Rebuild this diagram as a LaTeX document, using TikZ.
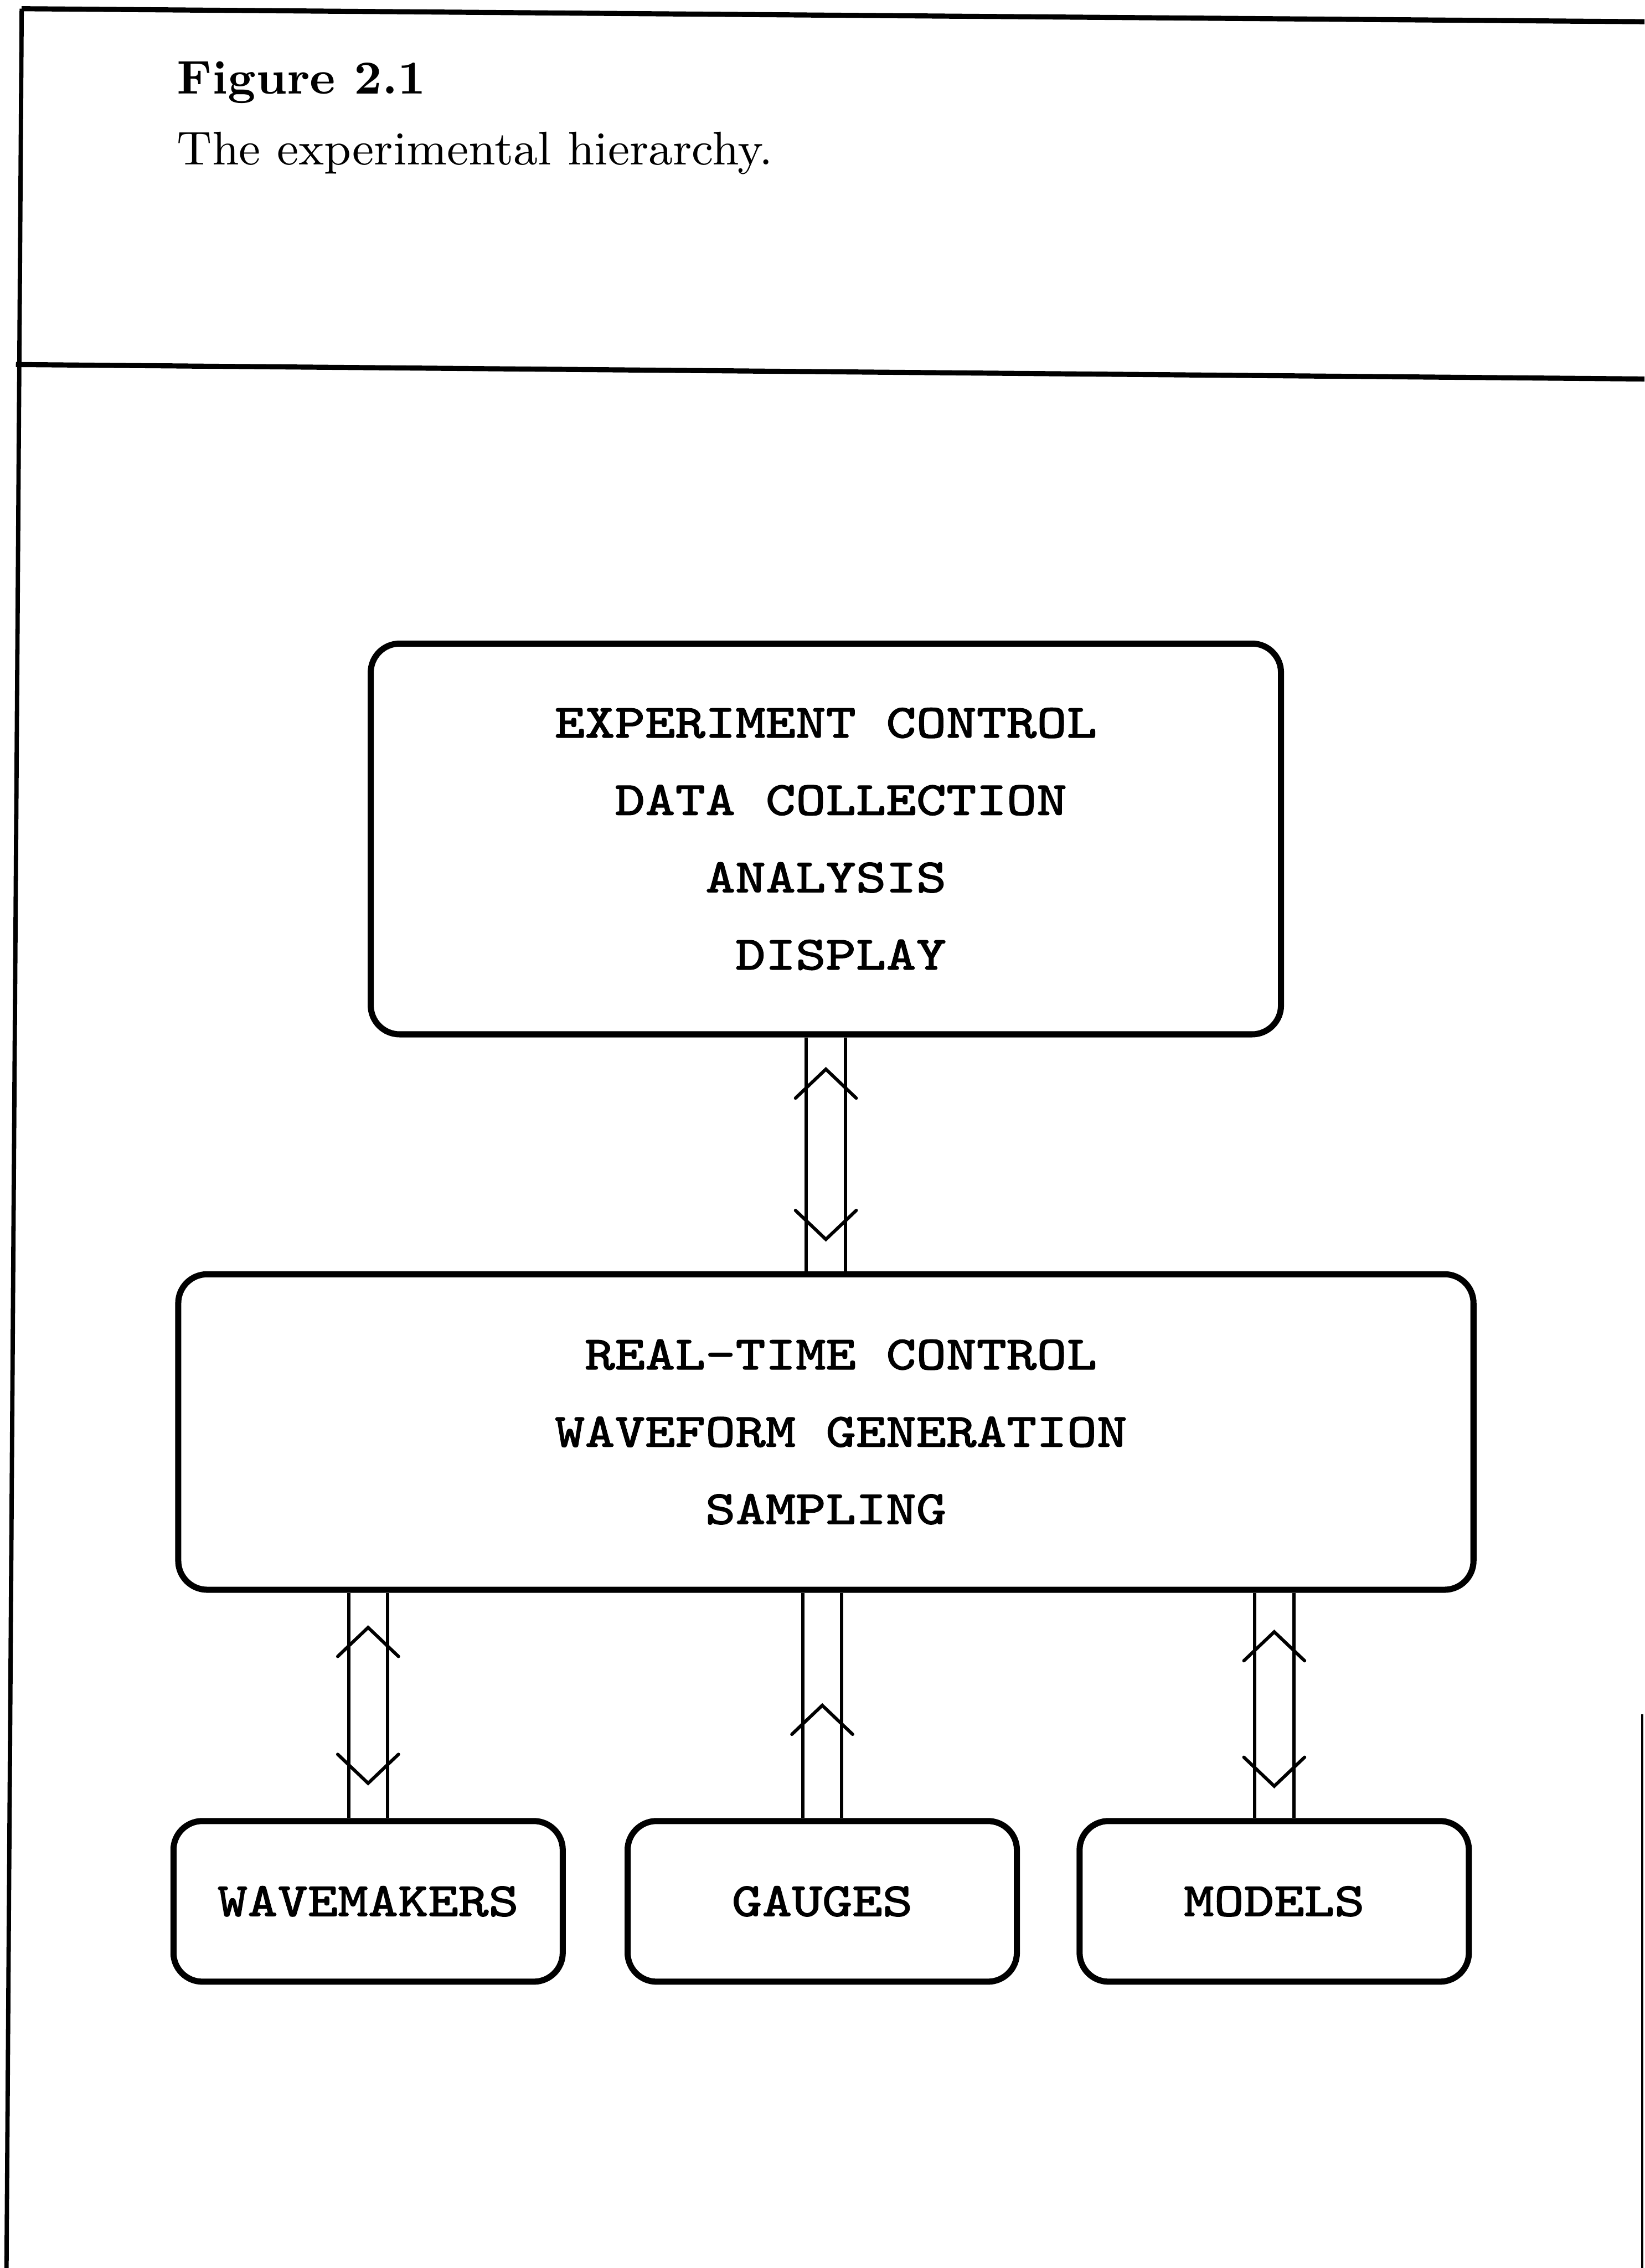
\documentclass[tikz,border=0pt]{standalone}
\usepackage{fontspec}
\usepackage{tikz}
\usetikzlibrary{calc}
\newfontfamily\boxfont[FakeStretch=1.2, FakeBold=1.5]{Latin Modern Mono}

\tikzset{
  uptip/.pic={\draw[tipline] (-21,20) -- (0,0) -- (21,20);},
  downtip/.pic={\draw[tipline] (-21,-20) -- (0,0) -- (21,-20);}
}

\begin{document}
\begin{tikzpicture}[x=0.01cm, y=-0.01cm,
  sheet/.style={line width=1pt},
  box/.style={draw, line width=1.2pt, rounded corners=0.2cm, inner sep=0pt,
    font=\boxfont\fontsize{9.4}{15.2}\selectfont},
  unit/.style={box, minimum width=2.69cm, minimum height=1.11cm},
  bus/.style={line width=0.65pt, double, double distance=7.03pt},
  tipline/.style={line width=0.65pt, line cap=round}]
\useasboundingbox (0,0) rectangle (1137,1568);
\draw[sheet] (15,6) -- (1137,15);
\draw[line width=0.85pt] (15,6) -- (4.5,1568);
\draw[sheet] (11,252) -- (1137,262);
\draw[line width=0.4pt] (1135.5,1185) -- (1135.5,1568);

\node[anchor=base west, font=\fontsize{9.3}{11}\bfseries] (fig) at (110,65) {Figure 2.1};
\node[anchor=base west, font=\fontsize{9.3}{11}\selectfont] (cap) at (110,114) {The experimental hierarchy.};

\node[box, minimum width=6.29cm, minimum height=2.7cm, align=left] (ctrl) at (571,580)
  {EXPERIMENT CONTROL\\\hphantom{XX}DATA COLLECTION\\\hphantom{XXXXX}ANALYSIS\\\hphantom{XXXXXX}DISPLAY};
\node[box, minimum width=8.95cm, minimum height=2.18cm, align=left] (rt) at (571,990)
  {\hphantom{XX}REAL-TIME CONTROL\\\hphantom{X}WAVEFORM GENERATION\\\hphantom{XXXXXX}SAMPLING};
\node[unit] (wave) at (254.5,1314.5) {WAVEMAKERS};
\node[unit] (gauge) at (568.5,1314.5) {GAUGES};
\node[unit] (model) at (881,1314.5) {MODELS};

\draw[bus] (ctrl.south) -- (ctrl.south |- rt.north);
\draw[bus] (wave.north |- rt.south) -- (wave.north);
\draw[bus] (gauge.north |- rt.south) -- (gauge.north);
\draw[bus] (model.north |- rt.south) -- (model.north);

\pic at ($(ctrl.south)+(0,22)$) {uptip};
\pic at ($(rt.north)+(0,-22)$) {downtip};
\pic at ($(wave.north |- rt.south)+(0,24)$) {uptip};
\pic at ($(wave.north)+(0,-24)$) {downtip};
\pic at ($(gauge.north)!0.5!(gauge.north |- rt.south)$) {uptip};
\pic at ($(model.north |- rt.south)+(0,27)$) {uptip};
\pic at ($(model.north)+(0,-22)$) {downtip};
\end{tikzpicture}
\end{document}
